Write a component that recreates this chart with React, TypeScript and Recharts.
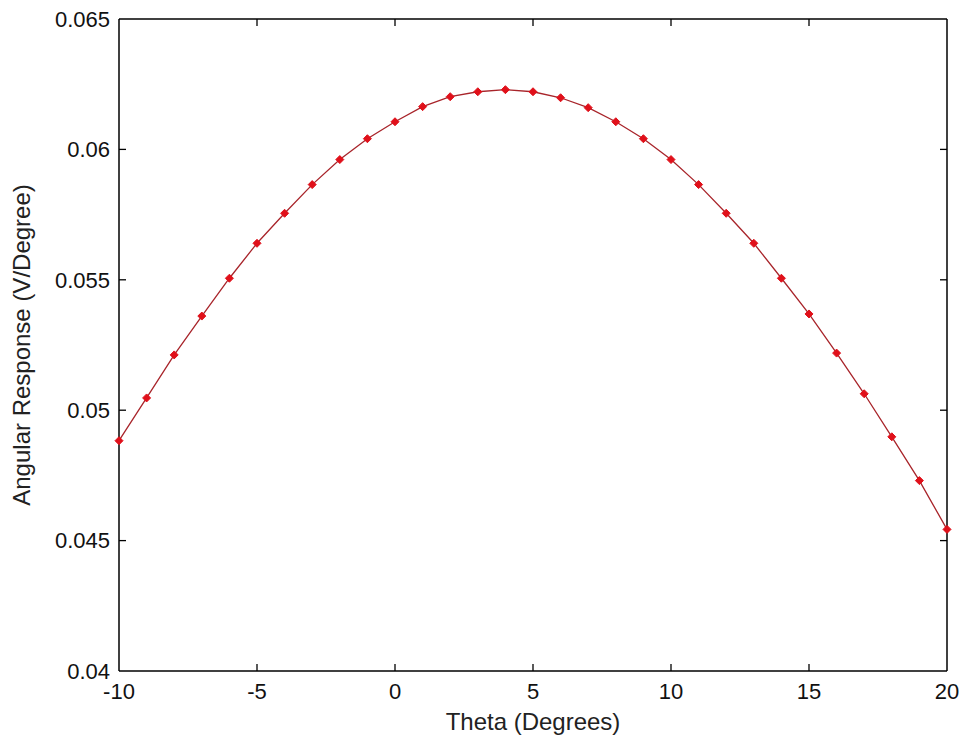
import { LineChart, Line, XAxis, YAxis, ReferenceLine } from "recharts";

const theta = [-10, -9, -8, -7, -6, -5, -4, -3, -2, -1, 0, 1, 2, 3, 4, 5, 6, 7, 8, 9, 10, 11, 12, 13, 14, 15, 16, 17, 18, 19, 20];
const response = [
  0.04883, 0.05047, 0.05212, 0.05361, 0.05506, 0.0564, 0.05755, 0.05865, 0.05961, 0.06041,
  0.06106, 0.06164, 0.06202, 0.06221, 0.06229, 0.06221, 0.06198, 0.0616, 0.06106, 0.06041,
  0.05961, 0.05865, 0.05755, 0.0564, 0.05506, 0.05369, 0.05219, 0.05063, 0.04898, 0.0473, 0.04543,
];
const xTicks = [-10, -5, 0, 5, 10, 15, 20];
const yTicks = [0.04, 0.045, 0.05, 0.055, 0.06, 0.065];

const data = theta.map((t, i) => ({ theta: t, value: response[i] }));

const FONT = "'Liberation Sans', Arial, sans-serif";
const AXIS = { stroke: "#000", strokeWidth: 1.5 };
const TICK_LEN = 7;

const fmtY = (v: number) => String(Number(v.toFixed(3)));

// inward ticks at both ends of a reference line (MATLAB style box ticks)
const VTick = (p: any) => {
  const top = Math.min(p.y1, p.y2);
  const bot = Math.max(p.y1, p.y2);
  return (
    <g>
      <line x1={p.x1} x2={p.x1} y1={bot} y2={bot - TICK_LEN} stroke="#000" strokeWidth={1.3} />
      <line x1={p.x1} x2={p.x1} y1={top} y2={top + TICK_LEN} stroke="#000" strokeWidth={1.3} />
    </g>
  );
};

const HTick = (p: any) => {
  const left = Math.min(p.x1, p.x2);
  const right = Math.max(p.x1, p.x2);
  return (
    <g>
      <line x1={left} x2={left + TICK_LEN} y1={p.y1} y2={p.y1} stroke="#000" strokeWidth={1.3} />
      <line x1={right} x2={right - TICK_LEN} y1={p.y1} y2={p.y1} stroke="#000" strokeWidth={1.3} />
    </g>
  );
};

const Diamond = (p: any) => {
  const { cx, cy } = p;
  if (cx == null || cy == null) return <g />;
  const r = 4;
  return (
    <path
      d={`M${cx},${cy - r}L${cx + r},${cy}L${cx},${cy + r}L${cx - r},${cy}Z`}
      fill="#e0101a"
      stroke="#e0101a"
      strokeWidth={1}
    />
  );
};

export default function App() {
  return (
    <div style={{ position: "absolute", left: 0, top: 0, background: "#fff" }}>
      <LineChart width={964} height={747} data={data} margin={{ top: 19, right: 17, bottom: 0, left: 0 }}>
        <XAxis
          dataKey="theta"
          type="number"
          domain={[-10, 20]}
          ticks={xTicks}
          height={76}
          tickSize={0}
          tickMargin={12}
          tickLine={false}
          axisLine={AXIS}
          tick={{ fontSize: 22, fill: "#111", fontFamily: FONT }}
          interval={0}
          label={{
            content: (props: any) => {
              const vb = props.viewBox;
              return (
                <text x={vb.x + vb.width / 2} y={722} textAnchor="middle" dy="0.35em" fontSize={24} fill="#222" fontFamily={FONT}>
                  Theta (Degrees)
                </text>
              );
            },
          }}
        />
        <YAxis
          type="number"
          domain={[0.04, 0.065]}
          ticks={yTicks}
          width={119}
          tickSize={0}
          tickMargin={9}
          tickLine={false}
          axisLine={AXIS}
          tick={{ fontSize: 22, fill: "#111", fontFamily: FONT }}
          tickFormatter={fmtY}
          interval={0}
          label={{
            content: (props: any) => {
              const vb = props.viewBox;
              const cy = vb.y + vb.height / 2;
              return (
                <text x={22} y={cy} transform={`rotate(-90, 22, ${cy})`} textAnchor="middle" dy="0.35em" fontSize={24} fill="#222" fontFamily={FONT}>
                  Angular Response (V/Degree)
                </text>
              );
            },
          }}
        />
        {/* box: top and right edges */}
        <ReferenceLine y={yTicks[yTicks.length - 1]} stroke="#000" strokeWidth={1.5} />
        <ReferenceLine x={xTicks[xTicks.length - 1]} stroke="#000" strokeWidth={1.5} />
        {xTicks.slice(1, -1).map((t) => (
          <ReferenceLine key={`x${t}`} x={t} stroke="none" shape={<VTick />} />
        ))}
        {yTicks.slice(1, -1).map((t) => (
          <ReferenceLine key={`y${t}`} y={t} stroke="none" shape={<HTick />} />
        ))}
        <Line
          type="linear"
          dataKey="value"
          stroke="#a8242a"
          strokeWidth={1.3}
          dot={<Diamond />}
          activeDot={false}
          isAnimationActive={false}
        />
      </LineChart>
    </div>
  );
}
